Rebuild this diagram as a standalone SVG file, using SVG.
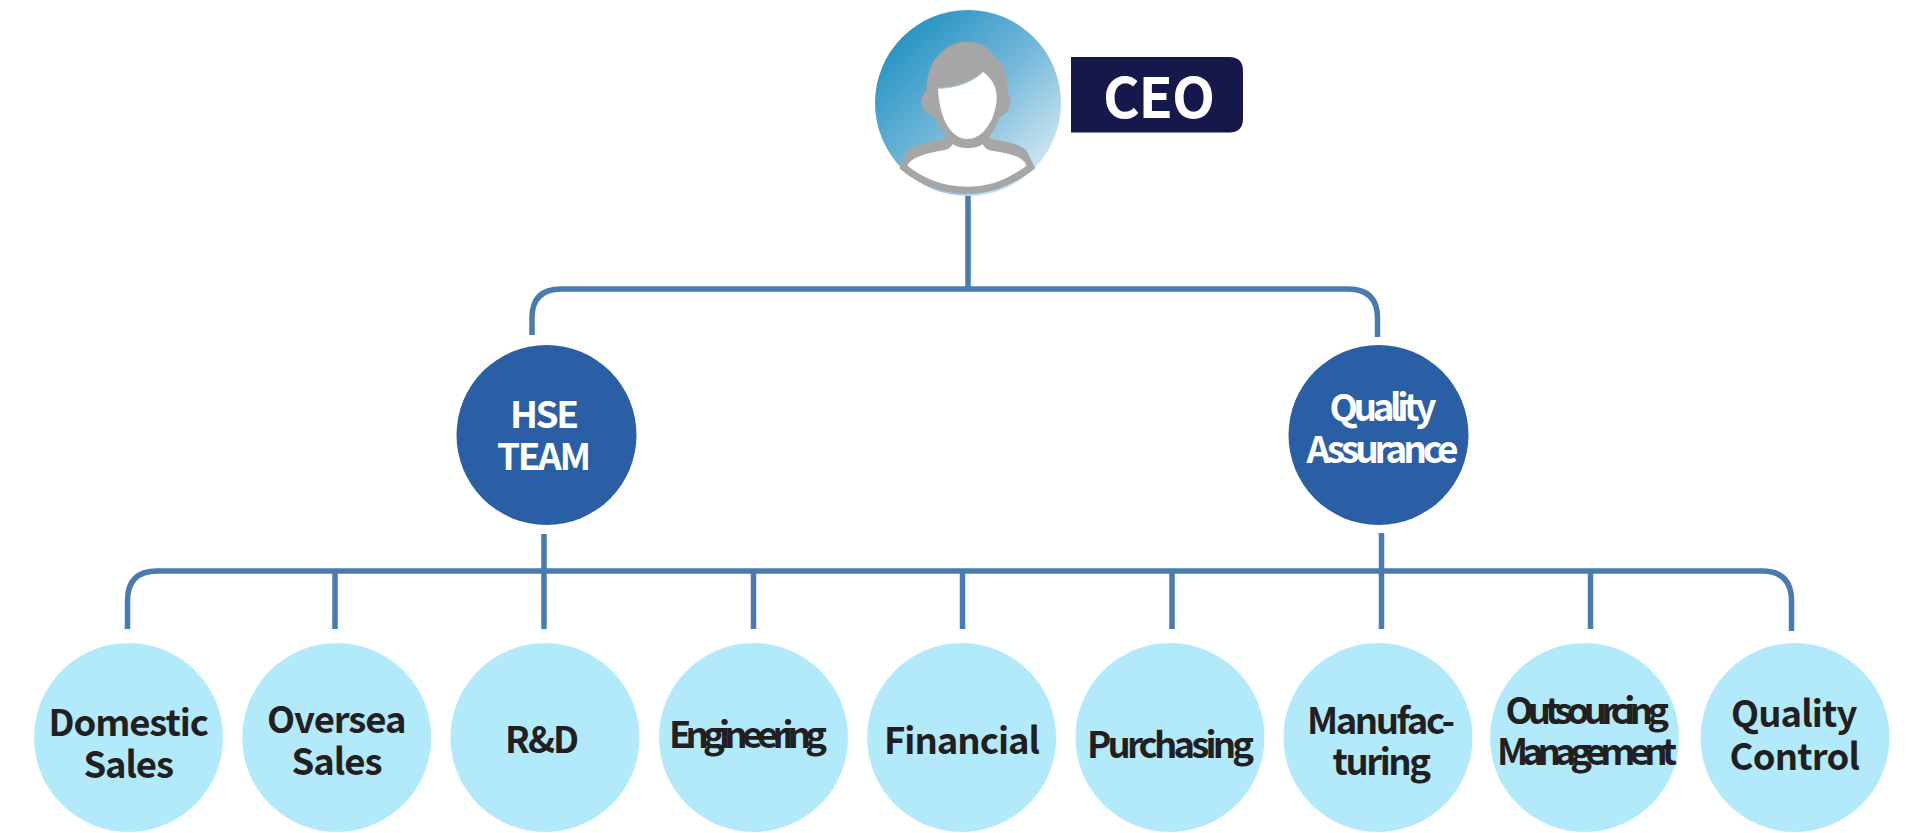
<svg xmlns="http://www.w3.org/2000/svg" width="1912" height="833" viewBox="0 0 1912 833">
<defs>
<linearGradient id="ceoGrad" x1="0.18" y1="0.12" x2="0.9" y2="0.88">
<stop offset="0" stop-color="#2a95c5"/>
<stop offset="0.5" stop-color="#75b8da"/>
<stop offset="1" stop-color="#d3e9f3"/>
</linearGradient>
</defs>
<style>
text{font-family:"Noto Sans CJK KR","Noto Sans",sans-serif;font-weight:700;}
.l{fill:#b2eafc}
.m{fill:#2a5fa5}
.t{fill:#231f20;font-size:36.5px}
.w{fill:#ffffff;font-size:37px}
.c{fill:none;stroke:#4a7bb0;stroke-width:5.5}
.g{fill:#a6a6a6}
.f{fill:#ffffff}
.h{fill:none;stroke:#a9d8ec;stroke-width:3}
</style>
<rect width="1912" height="833" fill="#ffffff"/>
<g id="connectors">
<path class="c" d="M968 190V289"/>
<path class="c" d="M532 335V318Q532 289 561 289H1348Q1377.5 289 1377.5 318V337"/>
<path class="c" d="M127.5 629V601Q127.5 571 157 571H1762Q1791.5 571 1791.5 601V631"/>
<path class="c" d="M544 534V629"/>
<path class="c" d="M335 571V629"/>
<path class="c" d="M753.5 571V629"/>
<path class="c" d="M962.5 571V629"/>
<path class="c" d="M1172 571V629"/>
<path class="c" d="M1381.5 533V629"/>
<path class="c" d="M1590.5 571V629"/>
</g>
<g id="ceo">
<circle cx="968" cy="103" r="93" fill="url(#ceoGrad)"/>
<g transform="translate(850 0) scale(0.33333)">
<path class="h" d="M165 470C185 440 240 438 290 428M416 428C470 436 510 442 532 462M300 432C325 446 380 446 405 432"/>
<path class="g" d="M230 270C228 180 290 125 350 125C395 125 425 150 435 172C462 190 472 225 472 275C490 295 482 340 448 352C440 375 430 395 418 410L425 418C470 426 510 430 530 453L556 505C500 550 430 582 352 582C270 582 200 550 148 505L165 463C185 428 240 428 285 416L288 408C275 390 262 370 250 350C215 340 200 300 230 270Z"/>
<path class="f" d="M172 497C185 468 240 458 285 450C298 447 305 438 308 432C325 448 380 448 398 432C405 445 412 450 425 452C470 458 520 468 530 497C470 540 420 560 352 560C280 560 220 535 172 497Z"/>
<path class="f" d="M264 265C300 265 360 255 400 215C430 240 442 265 440 300C435 360 400 417 352 417C305 417 268 360 264 265Z"/>
<path class="h" d="M264 265C300 265 360 255 400 215"/>
</g>
<path d="M1071 57H1229Q1243 57 1243 71V118.500Q1243 132.500 1229 132.500H1071Z" fill="#16174a"/>
<text x="1103" y="118" fill="#ffffff" font-size="56" textLength="112">CEO</text>
</g>
<g id="hse">
<circle class="m" cx="546.500" cy="435" r="90"/>
<text class="w" x="510" y="428" textLength="69">HSE</text>
<text class="w" x="497" y="470" textLength="94">TEAM</text>
</g>
<g id="qa">
<circle class="m" cx="1378.500" cy="435" r="90"/>
<text class="w" x="1329.500" y="421" textLength="107">Quality</text>
<text class="w" x="1306.500" y="463" textLength="152">Assurance</text>
</g>
<g id="domestic">
<circle class="l" cx="128.500" cy="737.500" r="94.500"/>
<text class="t" x="48.500" y="736" textLength="160.500">Domestic</text>
<text class="t" x="83.500" y="778" textLength="90.500">Sales</text>
</g>
<g id="oversea">
<circle class="l" cx="336.700" cy="737.500" r="94.500"/>
<text class="t" x="267" y="733" textLength="139.500">Oversea</text>
<text class="t" x="291.500" y="775" textLength="91">Sales</text>
</g>
<g id="rd">
<circle class="l" cx="545" cy="737.500" r="94.500"/>
<text class="t" x="505" y="753" textLength="74">R&amp;D</text>
</g>
<g id="engineering">
<circle class="l" cx="753.500" cy="737.500" r="94.500"/>
<text class="t" x="669" y="748" textLength="158">Engineering</text>
</g>
<g id="financial">
<circle class="l" cx="961.600" cy="737.500" r="94.500"/>
<text class="t" x="884" y="753.500" textLength="156">Financial</text>
</g>
<g id="purchasing">
<circle class="l" cx="1170" cy="737.500" r="94.500"/>
<text class="t" x="1087" y="758" textLength="167">Purchasing</text>
</g>
<g id="manufacturing">
<circle class="l" cx="1378" cy="737.500" r="94.500"/>
<text class="t" x="1307" y="734" textLength="148">Manufac-</text>
<text class="t" x="1332.500" y="775" textLength="98.500">turing</text>
</g>
<g id="outsourcing">
<circle class="l" cx="1584.500" cy="737.500" r="94.500"/>
<text class="t" x="1505.500" y="724" textLength="163.500">Outsourcing</text>
<text class="t" x="1497" y="765" textLength="180">Management</text>
</g>
<g id="quality">
<circle class="l" cx="1795" cy="737.500" r="94.500"/>
<text class="t" x="1731" y="727" textLength="126.500">Quality</text>
<text class="t" x="1729.500" y="770" textLength="130.500">Control</text>
</g>
</svg>
